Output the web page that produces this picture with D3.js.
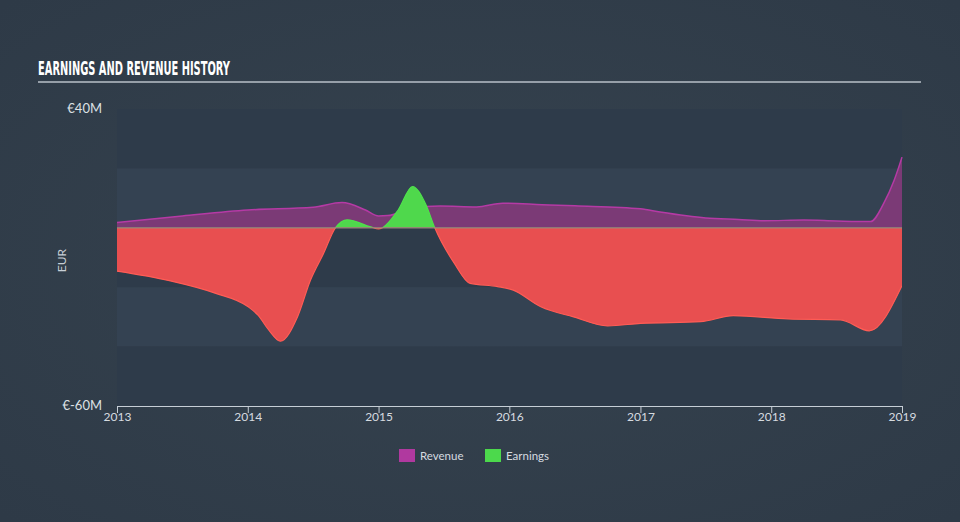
<!DOCTYPE html>
<html><head><meta charset="utf-8">
<script src="https://cdn.jsdelivr.net/npm/d3@7"></script>
<style>body{margin:0;background:#323f4e;} svg{display:block}</style>
</head><body>
<svg id="chart" width="960" height="522"></svg>
<script>
// ---- data (decimal years, values in € millions) ----
const revenueYears  = [2013.0, 2013.5, 2014.0, 2014.5, 2014.72, 2014.9, 2015.0, 2015.07, 2015.25, 2015.47, 2015.75, 2015.95, 2016.25, 2016.5, 2017.0, 2017.15, 2017.5, 2017.75, 2017.95, 2018.25, 2018.5, 2018.76, 2018.86, 2018.94, 2019.0];
const revenueValues = [1.8, 4.0, 6.0, 6.9, 8.5, 6.0, 4.0, 4.1, 6.5, 7.3, 7.0, 8.3, 7.8, 7.4, 6.4, 5.3, 3.3, 2.8, 2.4, 2.6, 2.3, 2.1, 8.2, 16.0, 23.8];
const earningsYears  = [2013.0, 2013.4, 2013.75, 2014.0, 2014.08, 2014.16, 2014.25, 2014.38, 2014.48, 2014.58, 2014.67, 2014.76, 2014.94, 2015.0, 2015.03, 2015.15, 2015.26, 2015.36, 2015.43, 2015.58, 2015.7, 2015.91, 2016.03, 2016.24, 2016.49, 2016.75, 2017.0, 2017.46, 2017.71, 2018.13, 2018.53, 2018.75, 2019.0];
const earningsValues = [-14.6, -17.8, -22.0, -26.5, -29.5, -34.4, -38.2, -30.0, -17.6, -8.6, 0, 2.7, 0.3, -0.4, 0, 6.0, 13.9, 8.0, 0, -12.0, -18.7, -19.8, -21.0, -26.6, -30.0, -33.0, -32.2, -31.6, -29.6, -30.7, -31.0, -34.7, -19.5];
const yearTicks = [2013, 2014, 2015, 2016, 2017, 2018, 2019];
const yTickValues = [40, -60];
const bandStops = [40, 20, 0, -20, -40, -60];
const legendNames = ["Revenue", "Earnings"];
const legendColors = ["#b0399f", "#4cd94c"];

function yearToDate(t){
  const y = Math.floor(t);
  const a = new Date(y,0,1), b = new Date(y+1,0,1);
  return new Date(+a + (t-y)*(b-a));
}
const revenue = revenueYears.map((t,i)=>({date:yearToDate(t), v:revenueValues[i]}));
const earnings = earningsYears.map((t,i)=>({date:yearToDate(t), v:earningsValues[i]}));

const svg = d3.select("#chart");
const W = 960, H = 522;
const m = {left:117, right:902, top:109, bottom:406};

// background
const defs = svg.append("defs");
const rg = defs.append("radialGradient").attr("id","bg").attr("cx","50%").attr("cy","50%").attr("r","70%");
rg.append("stop").attr("offset","0%").attr("stop-color","#36434f");
rg.append("stop").attr("offset","100%").attr("stop-color","#2e3a47");
svg.append("rect").attr("width",W).attr("height",H).attr("fill","url(#bg)");

const x = d3.scaleTime().domain([yearToDate(2013), yearToDate(2019)]).range([m.left, m.right]);
const y = d3.scaleLinear().domain([-60, 40]).range([m.bottom, m.top]);

// plot bands
const bands = d3.pairs(bandStops);
svg.append("g").selectAll("rect").data(bands).join("rect")
  .attr("x", m.left).attr("width", m.right - m.left)
  .attr("y", d=>y(d[0])).attr("height", d=>y(d[1]) - y(d[0]))
  .attr("fill", (d,i)=> i%2===0 ? "#2e3b4a" : "#344252");

// title
svg.append("text").attr("x",38).attr("y",75)
  .attr("font-family","'Liberation Sans Narrow','DejaVu Sans Condensed',sans-serif")
  .attr("font-weight","bold").attr("font-size",20).attr("fill","#ffffff")
  .attr("textLength",192).attr("lengthAdjust","spacingAndGlyphs")
  .text("EARNINGS AND REVENUE HISTORY");
svg.append("line").attr("x1",38).attr("x2",921).attr("y1",82).attr("y2",82)
  .attr("stroke","#b9c1c9").attr("stroke-width",1.5);

// revenue area
const area = d3.area().x(d=>x(d.date)).y0(y(0)).y1(d=>y(d.v)).curve(d3.curveMonotoneX);
const line = d3.line().x(d=>x(d.date)).y(d=>y(d.v)).curve(d3.curveMonotoneX);
svg.append("path").datum(revenue).attr("d",area).attr("fill","#7b3a76");
svg.append("path").datum(revenue).attr("d",line).attr("fill","none").attr("stroke","#b53aa5").attr("stroke-width",1.5);

// earnings: clip positive / negative
defs.append("clipPath").attr("id","pos").append("rect")
  .attr("x",m.left).attr("y",0).attr("width",m.right-m.left).attr("height",y(0));
defs.append("clipPath").attr("id","neg").append("rect")
  .attr("x",m.left).attr("y",y(0)).attr("width",m.right-m.left).attr("height",H-y(0));
const eg = svg.append("g");
eg.append("path").datum(earnings).attr("d",area).attr("fill","#4fd84c").attr("clip-path","url(#pos)");
eg.append("path").datum(earnings).attr("d",area).attr("fill","#e84f50").attr("clip-path","url(#neg)");
eg.append("path").datum(earnings).attr("d",line).attr("fill","none").attr("stroke","#4fe04c").attr("stroke-width",1.2).attr("clip-path","url(#pos)");
eg.append("path").datum(earnings).attr("d",line).attr("fill","none").attr("stroke","#ff5c55").attr("stroke-width",1.2).attr("clip-path","url(#neg)");

// zero line
svg.append("line").attr("x1",m.left).attr("x2",m.right).attr("y1",y(0)).attr("y2",y(0))
  .attr("stroke","#a08a80").attr("stroke-width",1.2).attr("opacity",0.9);

// y labels
svg.append("g").selectAll("text").data(yTickValues).join("text")
  .attr("x",102).attr("y",d=>y(d)+4).attr("text-anchor","end")
  .attr("font-family","Lato, 'Open Sans', sans-serif").attr("font-size",13).attr("fill","#dde1e5")
  .text(d=>"€"+d+"M");
svg.append("text").attr("transform",`translate(66,${(m.top+m.bottom)/2+3}) rotate(-90)`)
  .attr("text-anchor","middle").attr("font-family","Lato, 'Open Sans', sans-serif")
  .attr("font-size",12).attr("fill","#c8cfd6").text("EUR");

// x axis
const xa = svg.append("g").attr("transform",`translate(0,${m.bottom})`)
  .call(d3.axisBottom(x).tickValues(yearTicks.map(yearToDate)).tickFormat(d3.timeFormat("%Y")).tickSize(7).tickSizeOuter(0));
xa.select(".domain").attr("stroke","#c6ced6");
xa.selectAll(".tick line").attr("stroke","#c6ced6");
xa.selectAll(".tick text").attr("fill","#d6dbe0").attr("font-family","Lato, 'Open Sans', sans-serif")
  .attr("font-size",12).attr("dy","0.9em").attr("y",4);

// legend
const lg = svg.append("g").attr("transform","translate(399,449)");
const items = lg.selectAll("g").data(legendNames).join("g")
  .attr("transform",(d,i)=>`translate(${i*86},0)`);
items.append("rect").attr("width",16).attr("height",13).attr("fill",(d,i)=>legendColors[i]);
items.append("text").attr("x",21).attr("y",11).attr("font-family","Lato, 'Open Sans', sans-serif")
  .attr("font-size",11.5).attr("fill","#d6dbe0").text(d=>d);
</script>
</body></html>
